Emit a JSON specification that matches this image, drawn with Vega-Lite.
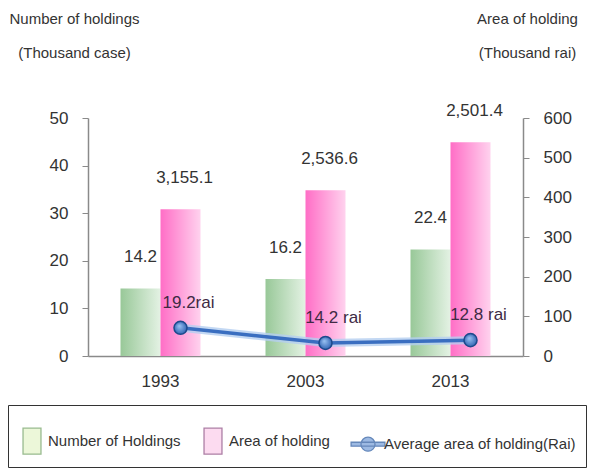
{
  "$schema": "https://vega.github.io/schema/vega-lite/v6.json",
  "width": 435,
  "height": 238,
  "autosize": {"type": "none"},
  "padding": {"left": 88, "top": 118, "right": 72, "bottom": 114},
  "background": "white",
  "config": {
    "view": {"stroke": null},
    "font": "Liberation Sans",
    "axis": {"grid": false, "labelColor": "#333333", "domainColor": "#8a8a8a", "tickColor": "#8a8a8a", "labelFont": "Liberation Sans", "titleFont": "Liberation Sans"}
  },
  "datasets": {
    "main": [
      {"year": "1993", "holdings": 14.2, "area_bar": 370, "area_label": "3,155.1", "avg_plot": 71, "avg_label": "19.2rai"},
      {"year": "2003", "holdings": 16.2, "area_bar": 418, "area_label": "2,536.6", "avg_plot": 33, "avg_label": "14.2 rai"},
      {"year": "2013", "holdings": 22.4, "area_bar": 539, "area_label": "2,501.4", "avg_plot": 40, "avg_label": "12.8 rai"}
    ],
    "legend": [
      {"series": "Number of Holdings"},
      {"series": "Area of holding"},
      {"series": "Average area of holding(Rai)"}
    ]
  },
  "layer": [
    {
      "data": {"name": "main"},
      "mark": {"type": "bar", "fill": {"gradient": "linear", "x1": 0, "y1": 0, "x2": 1, "y2": 0, "stops": [{"offset": 0, "color": "#98c898"}, {"offset": 1, "color": "#e4f2e4"}]}},
      "encoding": {
        "x": {"field": "year", "type": "ordinal", "scale": {"paddingInner": 0, "paddingOuter": 0}, "axis": {"title": null, "labelAngle": 0, "labelFontSize": 17, "labelPadding": 17, "ticks": false, "domainWidth": 1.5}},
        "xOffset": {"datum": "Number of Holdings", "scale": {"domain": ["Number of Holdings", "Area of holding"], "paddingInner": 0, "paddingOuter": 0.8125}},
        "y": {"field": "holdings", "type": "quantitative", "scale": {"domain": [0, 50]}, "axis": {"orient": "left", "values": [0, 10, 20, 30, 40, 50], "labelFontSize": 17, "tickSize": 6, "labelPadding": 14, "domainWidth": 1.5, "title": ["Number of holdings", "(Thousand case)"], "titleAngle": 0, "titleAlign": "center", "titleBaseline": "alphabetic", "titleX": -14, "titleY": -95, "titleFontSize": 15, "titleFontWeight": "normal", "titleColor": "#333333", "titleLineHeight": 34}}
      }
    },
    {
      "data": {"name": "main"},
      "mark": {"type": "bar", "fill": {"gradient": "linear", "x1": 0, "y1": 0, "x2": 1, "y2": 0, "stops": [{"offset": 0, "color": "#ff6ec6"}, {"offset": 1, "color": "#ffd2ee"}]}},
      "encoding": {
        "x": {"field": "year", "type": "ordinal"},
        "xOffset": {"datum": "Area of holding"},
        "y": {"field": "area_bar", "type": "quantitative", "scale": {"domain": [0, 600]}, "axis": {"orient": "right", "values": [0, 100, 200, 300, 400, 500, 600], "labelFontSize": 17, "tickSize": 6, "labelPadding": 14, "domainWidth": 1.5, "title": ["Area of holding", "(Thousand rai)"], "titleAngle": 0, "titleAlign": "center", "titleBaseline": "alphabetic", "titleX": 4, "titleY": -95, "titleFontSize": 15, "titleFontWeight": "normal", "titleColor": "#333333", "titleLineHeight": 34}}
      }
    },
    {
      "data": {"name": "main"},
      "mark": {"type": "text", "fontSize": 17, "color": "#333333", "baseline": "middle", "dy": -31},
      "encoding": {
        "x": {"field": "year", "type": "ordinal"},
        "xOffset": {"datum": "Number of Holdings"},
        "y": {"field": "holdings", "type": "quantitative", "scale": {"domain": [0, 50]}, "axis": null},
        "text": {"field": "holdings", "type": "quantitative", "format": ".1f"}
      }
    },
    {
      "data": {"name": "main"},
      "mark": {"type": "text", "fontSize": 17, "color": "#333333", "baseline": "middle", "dy": -31, "dx": 4},
      "encoding": {
        "x": {"field": "year", "type": "ordinal"},
        "xOffset": {"datum": "Area of holding"},
        "y": {"field": "area_bar", "type": "quantitative", "scale": {"domain": [0, 600]}, "axis": null},
        "text": {"field": "area_label", "type": "nominal"}
      }
    },
    {
      "data": {"name": "main"},
      "mark": {"type": "line", "stroke": "#b4cef0", "strokeWidth": 8, "opacity": 0.8},
      "encoding": {
        "x": {"field": "year", "type": "ordinal"},
        "xOffset": {"datum": "Area of holding"},
        "y": {"field": "avg_plot", "type": "quantitative", "scale": {"domain": [0, 600]}, "axis": null}
      }
    },
    {
      "data": {"name": "main"},
      "mark": {"type": "line", "stroke": "#3a6ec0", "strokeWidth": 3.5},
      "encoding": {
        "x": {"field": "year", "type": "ordinal"},
        "xOffset": {"datum": "Area of holding"},
        "y": {"field": "avg_plot", "type": "quantitative", "scale": {"domain": [0, 600]}, "axis": null}
      }
    },
    {
      "data": {"name": "main"},
      "mark": {"type": "point", "shape": "circle", "filled": true, "size": 170, "opacity": 1, "stroke": "#1d4a8c", "strokeWidth": 1.5, "fill": {"gradient": "radial", "x1": 0.4, "y1": 0.35, "r1": 0, "x2": 0.5, "y2": 0.5, "r2": 0.55, "stops": [{"offset": 0, "color": "#9cc4f4"}, {"offset": 1, "color": "#2c5fb0"}]}},
      "encoding": {
        "x": {"field": "year", "type": "ordinal"},
        "xOffset": {"datum": "Area of holding"},
        "y": {"field": "avg_plot", "type": "quantitative", "scale": {"domain": [0, 600]}, "axis": null}
      }
    },
    {
      "data": {"name": "main"},
      "mark": {"type": "text", "fontSize": 17, "color": "#402a44", "baseline": "middle", "dy": -25, "dx": 8},
      "encoding": {
        "x": {"field": "year", "type": "ordinal"},
        "xOffset": {"datum": "Area of holding"},
        "y": {"field": "avg_plot", "type": "quantitative", "scale": {"domain": [0, 600]}, "axis": null},
        "text": {"field": "avg_label", "type": "nominal"}
      }
    },
    {
      "data": {"name": "legend"},
      "mark": {"type": "point", "size": 0, "filled": true},
      "encoding": {
        "fill": {"field": "series", "type": "nominal", "title": " ",
          "scale": {"domain": ["Number of Holdings", "Area of holding", "Average area of holding(Rai)"], "range": ["#d8f0b2", "#f9b6e2", "#3a74c8"]},
          "legend": {"orient": "none", "legendX": -80, "legendY": 287, "direction": "horizontal", "strokeColor": "#333333", "fillColor": "white", "padding": 10, "labelFontSize": 15, "labelColor": "#333333", "labelFont": "Liberation Sans", "symbolSize": 676, "symbolOpacity": 1, "symbolStrokeWidth": 1.3, "labelOffset": 2, "columnPadding": 18, "titleFontSize": 4, "titlePadding": 8, "labelLimit": 400}},
        "stroke": {"field": "series", "type": "nominal", "title": " ",
          "scale": {"domain": ["Number of Holdings", "Area of holding", "Average area of holding(Rai)"], "range": ["#6f9f60", "#8a4a80", "#24569e"]}},
        "shape": {"field": "series", "type": "nominal", "title": " ",
          "scale": {"domain": ["Number of Holdings", "Area of holding", "Average area of holding(Rai)"], "range": ["M-0.69,-1H0.69V1H-0.69Z", "M-0.69,-1H0.69V1H-0.69Z", "M-1.3,-0.15H1.3V0.15H-1.3Z M0.54,0A0.54,0.54 0 1,1 -0.54,0A0.54,0.54 0 1,1 0.54,0Z"]}}
      }
    }
  ],
  "resolve": {"scale": {"y": "independent"}}
}
